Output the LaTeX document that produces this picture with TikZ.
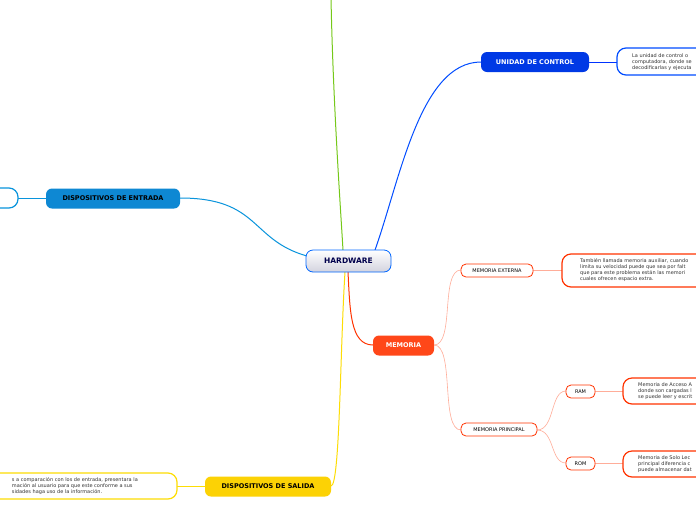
\documentclass[tikz,border=0pt]{standalone}
\usepackage{fontspec}
\setmainfont{DejaVu Sans}
\begin{document}
\begin{tikzpicture}[x=1pt,y=-1pt,
 main/.style={rounded corners=6pt,minimum height=20pt,text=white,font=\fontsize{6.5}{7}\selectfont\bfseries,inner sep=0pt},
 sub/.style={rounded corners=5pt,draw=#1,line width=0.8pt,fill=white,minimum height=13pt,font=\fontsize{5}{6}\selectfont,inner sep=0pt},
 det/.style={rounded corners=9pt,draw=#1,line width=1.2pt,fill=white,inner sep=0pt},
 dt/.style={font=\fontsize{5}{6.2}\selectfont,align=left,inner sep=0pt,text=black!80}]
\clip (0,0) rectangle (696,520);
\fill[white] (0,0) rectangle (696,520);
\coordinate (top) at (331,-2);
% connectors
\draw[green!60!black!60!yellow!90,line width=1pt] (top) .. controls (333,100) and (340,200) .. (343,250);
\draw[blue!70!cyan,line width=1pt] (375,250) .. controls (400,180) and (420,62) .. (481,62);
\draw[cyan!80!blue,line width=1pt] (307,256) .. controls (250,240) and (260,198) .. (180,198);
\draw[orange!40!red,line width=1pt] (348,272) .. controls (350,310) and (350,345) .. (373,345);
\draw[yellow!80!orange,line width=1pt] (345,272) .. controls (340,350) and (340,486) .. (331,486);
\draw[cyan!80!blue,line width=0.6pt] (46,198) -- (18,198);
\draw[blue!80!cyan,line width=0.8pt] (589,62) -- (617,62);
\draw[orange!40!red!40,line width=0.6pt] (434,345) .. controls (455,345) and (440,270) .. (461,270);
\draw[orange!40!red!40,line width=0.6pt] (434,345) .. controls (455,345) and (440,430) .. (461,430);
\draw[orange!40!red!40,line width=0.6pt] (533,270) -- (562,270);
\draw[orange!40!red!40,line width=0.6pt] (537,430) .. controls (555,430) and (550,391) .. (566,391);
\draw[orange!40!red!40,line width=0.6pt] (537,430) .. controls (555,430) and (550,463) .. (566,463);
\draw[orange!40!red!40,line width=0.6pt] (595,391) -- (623,391);
\draw[orange!40!red!40,line width=0.6pt] (595,463) -- (623,463);
\draw[yellow!80!orange,line width=0.6pt] (205,486) -- (177,486);
% nodes
\node[rounded corners=7pt,draw=blue!60!cyan,line width=0.8pt,top color=white,bottom color=blue!15!gray!30,minimum width=85pt,minimum height=22pt,font=\fontsize{7.5}{8}\selectfont\bfseries,text=blue!30!black] (hw) at (348.5,261) {HARDWARE};
\node[main,fill=blue!75!cyan!90!black,minimum width=108pt] (uc) at (535,62) {UNIDAD DE CONTROL};
\node[main,fill=cyan!70!blue,text=black,minimum width=134pt] (de) at (113,198.5) {DISPOSITIVOS DE ENTRADA};
\node[main,fill=orange!40!red!90,minimum width=61pt] (me) at (403.5,345.5) {MEMORIA};
\node[main,fill=yellow!70!orange,text=black,minimum width=126pt] (ds) at (268,486.5) {DISPOSITIVOS DE SALIDA};
\node[sub=orange!40!red,minimum width=72pt] (mx) at (497,270.5) {MEMORIA EXTERNA};
\node[sub=orange!40!red,minimum width=76pt] (mp) at (499,429.5) {MEMORIA PRINCIPAL};
\node[sub=orange!40!red,minimum width=29pt] (ram) at (580.5,391.5) {RAM};
\node[sub=orange!40!red,minimum width=29pt] (rom) at (580.5,463.5) {ROM};
% detail boxes
\draw[det=blue!70!cyan] (617,48) rectangle (720,75);
\node[dt,anchor=north west] (t1) at (632,53) {La unidad de control o\\computadora, donde se\\decodificarlas y ejecuta};
\draw[det=cyan!80!blue] (-30,188) rectangle (18,208);
\draw[det=orange!40!red] (562,254) rectangle (730,287);
\node[dt,anchor=north west] (t2) at (580,258) {También llamada memoria auxiliar, cuando\\limita su velocidad puede que sea por falt\\que para este problema están las memori\\cuales ofrecen espacio extra.};
\draw[det=orange!40!red] (623,378) rectangle (730,404);
\node[dt,anchor=north west] (t3) at (638,382) {Memoria de Acceso A\\donde son cargadas l\\se puede leer y escrit};
\draw[det=orange!40!red] (623,451) rectangle (730,477);
\node[dt,anchor=north west] (t4) at (638,455) {Memoria de Solo Lec\\principal diferencia c\\puede almacenar dat};
\draw[det=yellow!80!orange] (-30,473) rectangle (177,499);
\node[dt,anchor=north east] (t5) at (138,477) {s a comparación con los de entrada, presentara la\\mación al usuario para que este conforme a sus\\sidades haga uso de la información.};
\end{tikzpicture}
\end{document}
